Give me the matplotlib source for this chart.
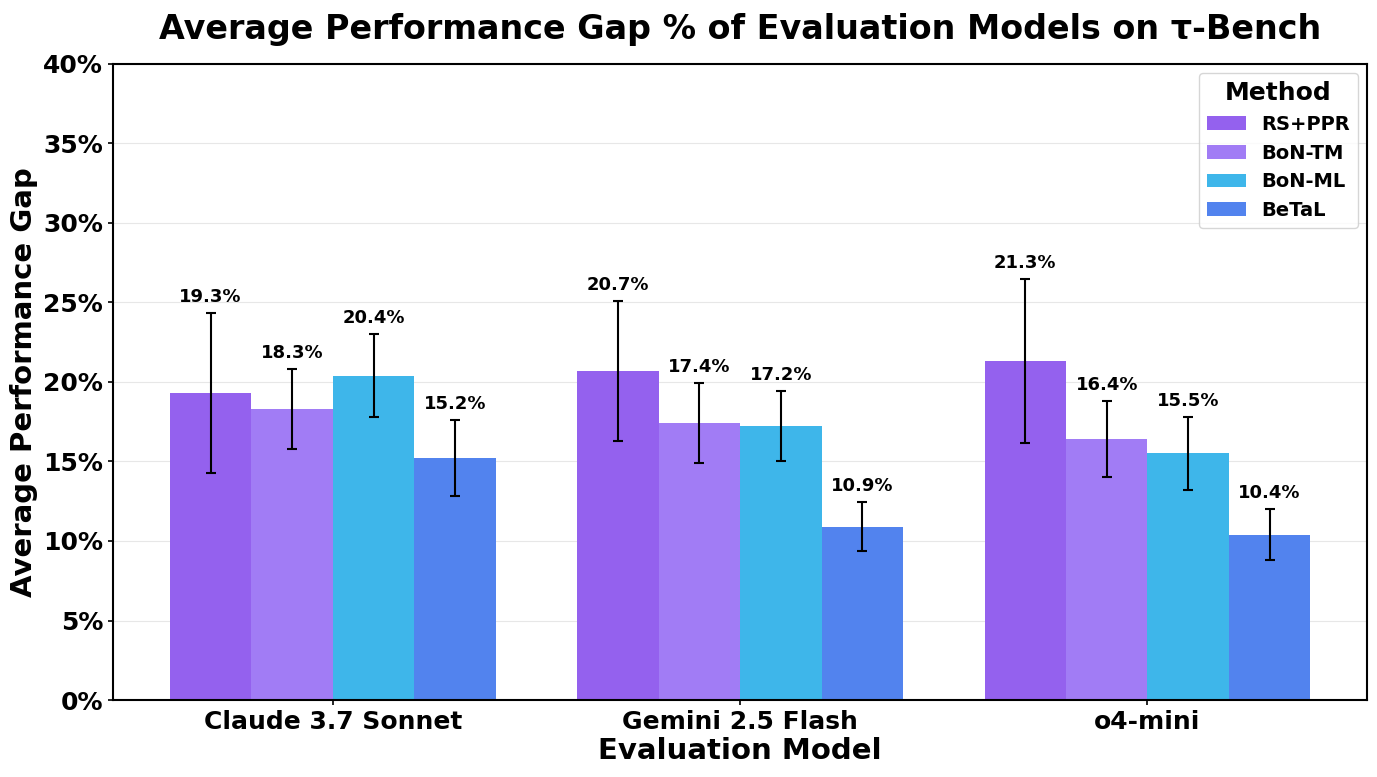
import numpy as np
import matplotlib
matplotlib.use("Agg")
import matplotlib.pyplot as plt
from matplotlib.ticker import FuncFormatter

models = ["Claude 3.7 Sonnet", "Gemini 2.5 Flash", "o4-mini"]
methods = ["RS+PPR", "BoN-TM", "BoN-ML", "BeTaL"]
colors = ["#9461EE", "#A17CF5", "#3EB6EA", "#5283EE"]

# mean gap (%) per method, one entry per model
rs_ppr = [19.3, 20.7, 21.3]
bon_tm = [18.3, 17.4, 16.4]
bon_ml = [20.4, 17.2, 15.5]
betal = [15.2, 10.9, 10.4]

rs_ppr_err = [5.05, 4.4, 5.15]
bon_tm_err = [2.5, 2.5, 2.4]
bon_ml_err = [2.6, 2.2, 2.3]
betal_err = [2.4, 1.55, 1.6]

values = [rs_ppr, bon_tm, bon_ml, betal]
errors = [rs_ppr_err, bon_tm_err, bon_ml_err, betal_err]

fig, ax = plt.subplots(figsize=(13.77, 7.77), dpi=100)
fig.subplots_adjust(left=0.082, right=0.993, top=0.918, bottom=0.099)

x = np.arange(len(models))
width = 0.2

for i, (m, v, e, c) in enumerate(zip(methods, values, errors, colors)):
    pos = x + (i - 1.5) * width
    ax.bar(pos, v, width, color=c, label=m, zorder=2)
    ax.errorbar(pos, v, yerr=e, fmt="none", ecolor="black", elinewidth=1.5,
                capsize=3.5, capthick=1.5, zorder=3)
    for xp, val, err in zip(pos, v, e):
        ax.text(xp, val + err + 0.45, f"{val:.1f}%", ha="center", va="bottom",
                fontsize=13, fontweight="bold")

ax.set_ylim(0, 40)
ax.set_yticks(np.arange(0, 41, 5))
ax.yaxis.set_major_formatter(FuncFormatter(lambda y, _: f"{y:.0f}%"))
ax.set_xticks(x)
ax.set_xticklabels(models)
ax.tick_params(axis="both", labelsize=18, width=1.2)
for lab in ax.get_xticklabels() + ax.get_yticklabels():
    lab.set_fontweight("bold")

ax.grid(axis="y", color="#dddddd", linewidth=0.8, alpha=0.7, zorder=0)
ax.set_axisbelow(True)
for s in ax.spines.values():
    s.set_linewidth(1.5)

ax.set_xlabel("Evaluation Model", fontsize=21, fontweight="bold", labelpad=2)
ax.set_ylabel("Average Performance Gap", fontsize=21, fontweight="bold")
ax.set_title("Average Performance Gap % of Evaluation Models on τ-Bench",
             fontsize=24, fontweight="bold", pad=18)

leg = ax.legend(title="Method", loc="upper right", fontsize=14,
                title_fontsize=18, prop={"weight": "bold", "size": 14})
leg.get_title().set_fontweight("bold")

fig.savefig("out.png", dpi=100)
